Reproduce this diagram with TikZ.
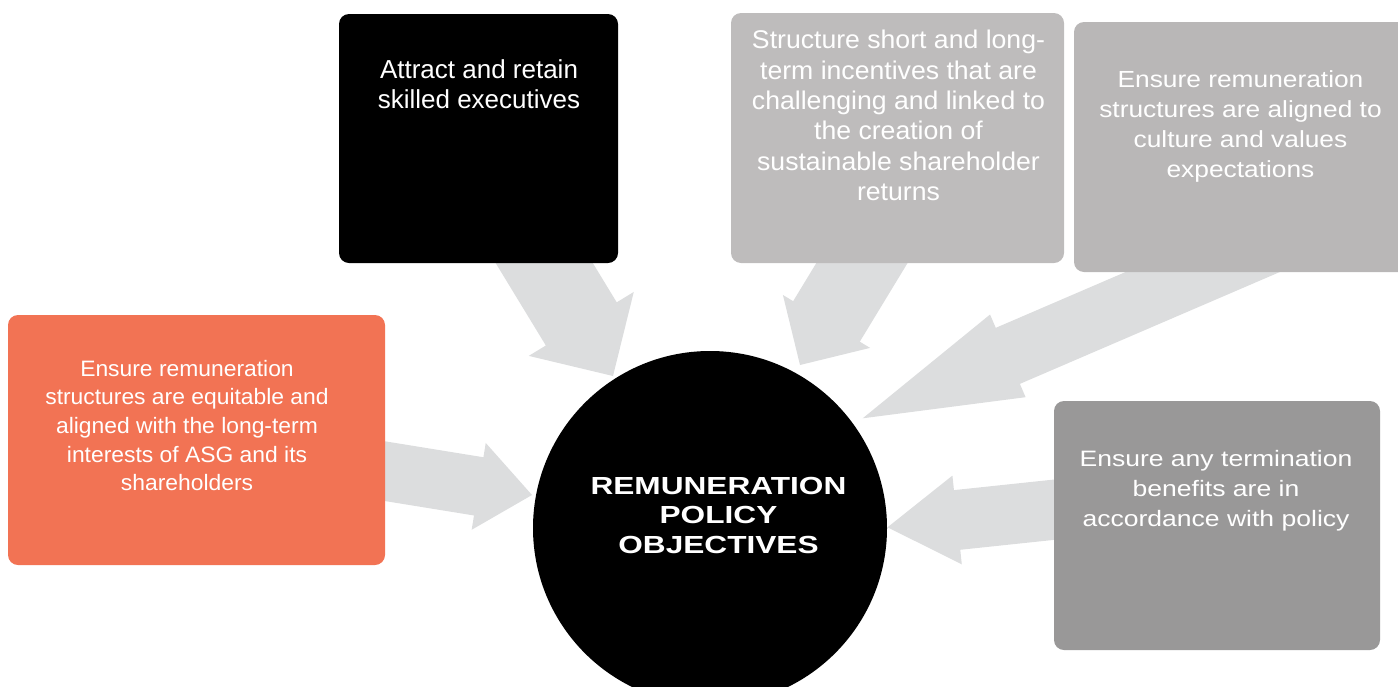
\documentclass[tikz,border=0pt]{standalone}
\usepackage{fontspec}
\setmainfont{Liberation Sans}
\newfontfamily\fA[FakeStretch=1.0]{Liberation Sans}
\newfontfamily\fB[FakeStretch=1.04]{Liberation Sans}
\newfontfamily\fC[FakeStretch=1.13]{Liberation Sans}
\newfontfamily\fD[FakeStretch=1.025]{Liberation Sans}
\newfontfamily\fE[FakeStretch=1.19]{Liberation Sans}
\newfontfamily\fF[FakeStretch=1.28]{Liberation Sans Bold}
\usetikzlibrary{calc}
\definecolor{arrowgrey}{HTML}{DCDDDE}
\definecolor{boxgreyA}{HTML}{BEBCBC}
\definecolor{boxgreyB}{HTML}{B9B7B7}
\definecolor{boxorange}{HTML}{F27354}
\definecolor{boxdark}{HTML}{999898}
\tikzset{
  box/.style={rectangle, rounded corners=10pt, draw=none, inner sep=0pt},
  boxtext/.style={anchor=north, inner sep=0pt, align=center, text=white},
  arrowfill/.style={fill=arrowgrey, draw=none},
}
\newcommand\blockarr[5]{%
  \coordinate (ab) at ($(#2)!#5!(#1)$);
  \fill[arrowfill] ($(#1)!#3!90:(#2)$) -- ($(ab)!#3!90:(#2)$) -- ($(ab)!#4!90:(#2)$) -- (#2)
    -- ($(ab)!#4!-90:(#2)$) -- ($(ab)!#3!-90:(#2)$) -- ($(#1)!#3!-90:(#2)$) -- cycle;
}
\begin{document}
\begin{tikzpicture}[x=1pt,y=-1pt]
\useasboundingbox (0,0) rectangle (1398,686);
\clip (0,0) rectangle (1398,686);

% arrow end points
\coordinate (s1) at (483,162.5);   \coordinate (t1) at (613,376);
\coordinate (s2) at (930,151);     \coordinate (t2) at (800,365);
\coordinate (s3) at (1321.7,220.8);\coordinate (t3) at (862.7,418.3);
\coordinate (s4) at (236,447);     \coordinate (t4) at (532,495);
\coordinate (s5) at (1185.7,495.8);\coordinate (t5) at (887.5,527.3);

\blockarr{s1}{t1}{41.5pt}{61.5pt}{61pt}
\blockarr{s2}{t2}{39pt}{51pt}{51pt}
\blockarr{s3}{t3}{30.5pt}{45pt}{158pt}
\blockarr{s4}{t4}{29.5pt}{44pt}{54pt}
\blockarr{s5}{t5}{30pt}{44.6pt}{70pt}

% boxes
\node[box, fill=black, minimum width=279pt, minimum height=249pt] (att) at (478.5,138.5) {};
\node[box, fill=boxgreyA, minimum width=333pt, minimum height=250pt] (sti) at (897.5,138) {};
\node[box, fill=boxgreyB, minimum width=334pt, minimum height=250pt] (cul) at (1241,147) {};
\node[box, fill=boxorange, minimum width=377pt, minimum height=250pt] (equ) at (196.5,440) {};
\node[box, fill=boxdark, minimum width=326pt, minimum height=249pt] (ter) at (1217,525.5) {};
\node[circle, fill=black, minimum size=354pt, inner sep=0pt] (circ) at (710,528) {};

% texts
\node[boxtext, font=\fA\fontsize{26}{30.5}\selectfont] (tatt) at (479,59)
  {Attract and retain\\skilled executives};
\node[boxtext, font=\fB\fontsize{25.6}{30.4}\selectfont] (tsti) at (898.5,30)
  {Structure short and long-\\term incentives that are\\challenging and linked to\\the creation of\\sustainable shareholder\\returns};
\node[boxtext, font=\fC\fontsize{23.3}{30.2}\selectfont] (tcul) at (1240.5,70)
  {Ensure remuneration\\structures are aligned to\\culture and values\\expectations};
\node[boxtext, font=\fD\fontsize{22.3}{28.6}\selectfont] (tequ) at (187,360)
  {Ensure remuneration\\structures are equitable and\\aligned with the long-term\\interests of ASG and its\\shareholders};
\node[boxtext, font=\fE\fontsize{22.3}{30}\selectfont] (tter) at (1216,450)
  {Ensure any termination\\benefits are in\\accordance with policy};
\node[boxtext, font=\fF\fontsize{24.7}{29.5}\selectfont] (tcirc) at (718.5,476.6)
  {REMUNERATION\\POLICY\\OBJECTIVES};
\end{tikzpicture}
\end{document}
